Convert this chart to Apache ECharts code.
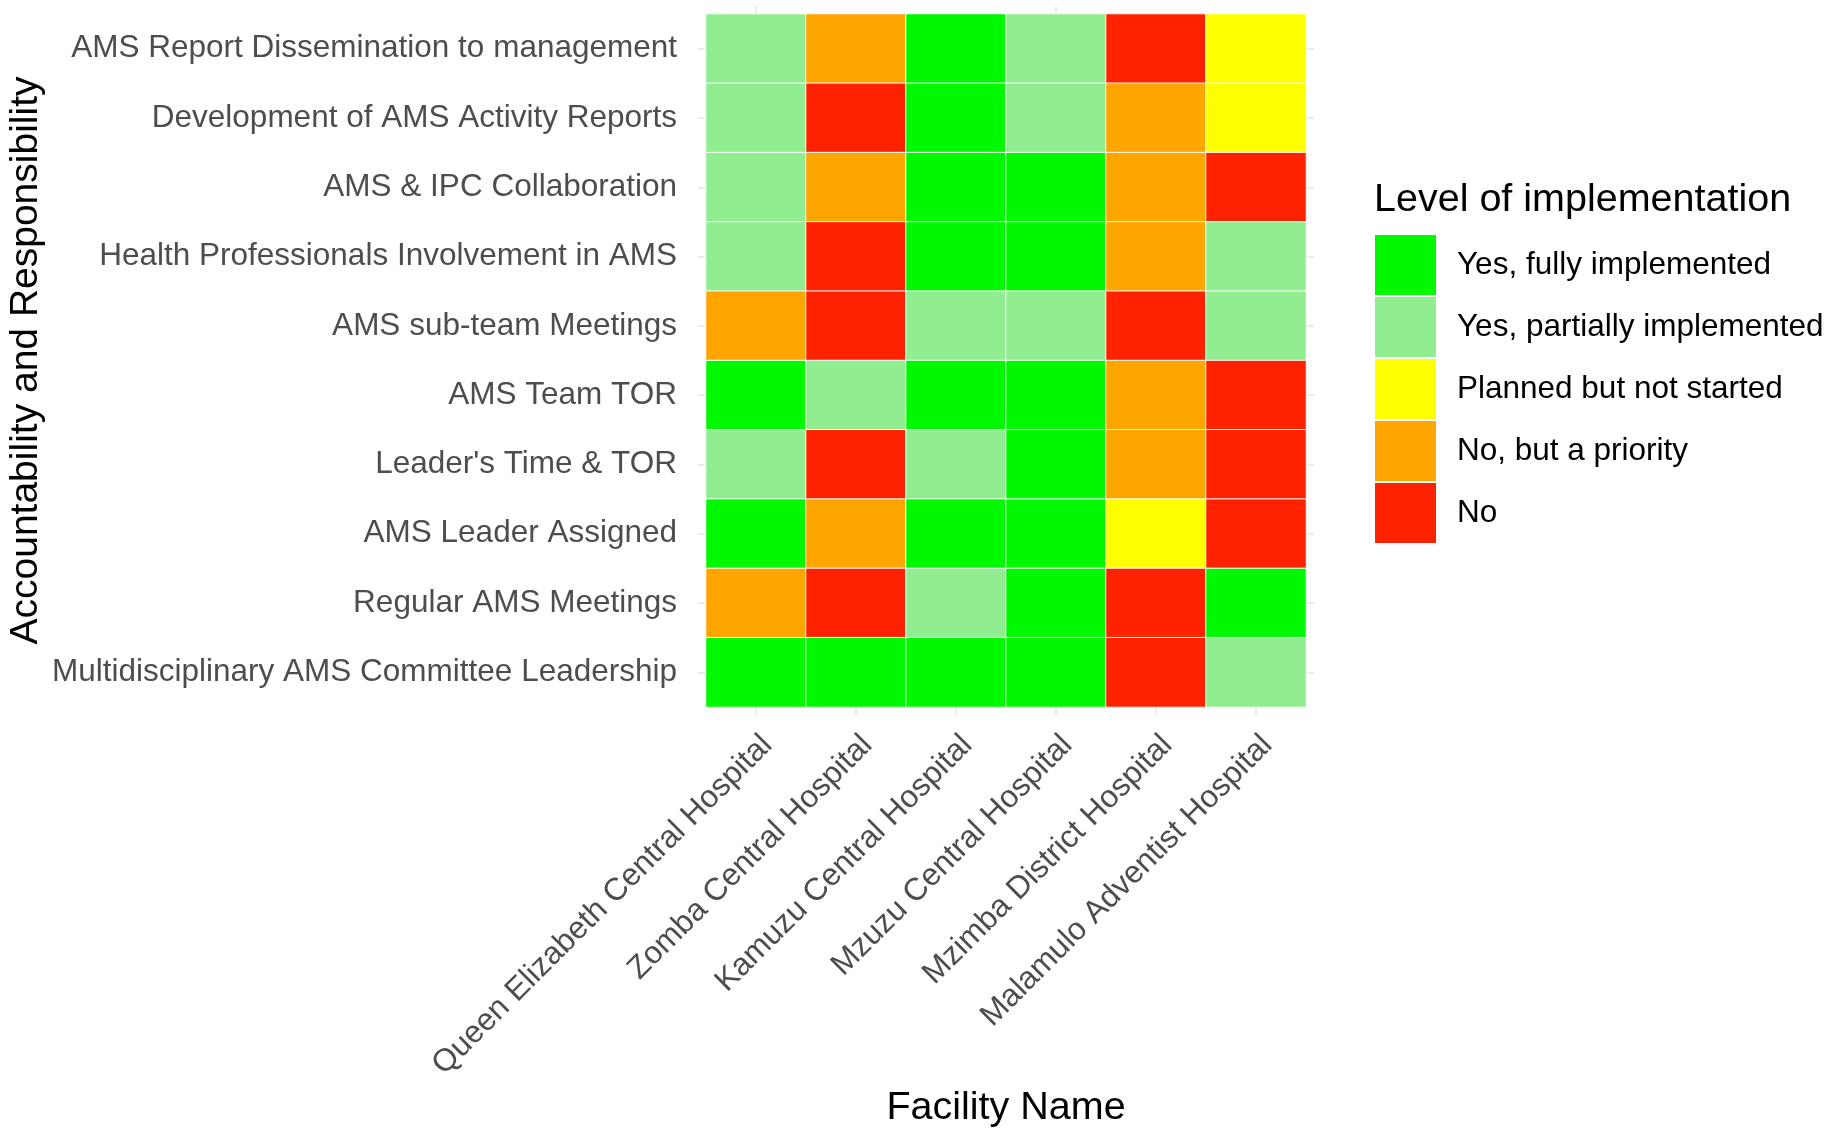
<!DOCTYPE html>
<html>
<head>
<meta charset="utf-8">
<style>
  html, body { margin: 0; padding: 0; background: #fff; }
  #chart { width: 1831px; height: 1137px; }
</style>
<script src="https://cdn.jsdelivr.net/npm/echarts@6/dist/echarts.min.js"></script>
</head>
<body>
<div id="chart"></div>
<script>
// facilities along the x axis
var facilities = [
    "Queen Elizabeth Central Hospital",
    "Zomba Central Hospital",
    "Kamuzu Central Hospital",
    "Mzuzu Central Hospital",
    "Mzimba District Hospital",
    "Malamulo Adventist Hospital"
];

// indicators, top to bottom
var indicators = [
    "AMS Report Dissemination to management",
    "Development of AMS Activity Reports",
    "AMS & IPC Collaboration",
    "Health Professionals Involvement in AMS",
    "AMS sub-team Meetings",
    "AMS Team TOR",
    "Leader's Time & TOR",
    "AMS Leader Assigned",
    "Regular AMS Meetings",
    "Multidisciplinary AMS Committee Leadership"
];

// legend levels, low code first
var levels = ["No", "No, but a priority", "Planned but not started", "Yes, partially implemented", "Yes, fully implemented"];
var levelColors = ["#FF2200", "#FFA500", "#FFFF00", "#90EE90", "#00F800"];

// level per indicator (same order as indicators) for each facility
var queenElizabeth = ["Yes, partially implemented", "Yes, partially implemented", "Yes, partially implemented", "Yes, partially implemented", "No, but a priority", "Yes, fully implemented", "Yes, partially implemented", "Yes, fully implemented", "No, but a priority", "Yes, fully implemented"];
var zomba = ["No, but a priority", "No", "No, but a priority", "No", "No", "Yes, partially implemented", "No", "No, but a priority", "No", "Yes, fully implemented"];
var kamuzu = ["Yes, fully implemented", "Yes, fully implemented", "Yes, fully implemented", "Yes, fully implemented", "Yes, partially implemented", "Yes, fully implemented", "Yes, partially implemented", "Yes, fully implemented", "Yes, partially implemented", "Yes, fully implemented"];
var mzuzu = ["Yes, partially implemented", "Yes, partially implemented", "Yes, fully implemented", "Yes, fully implemented", "Yes, partially implemented", "Yes, fully implemented", "Yes, fully implemented", "Yes, fully implemented", "Yes, fully implemented", "Yes, fully implemented"];
var mzimba = ["No", "No, but a priority", "No, but a priority", "No, but a priority", "No", "No, but a priority", "No, but a priority", "Planned but not started", "No", "No"];
var malamulo = ["Planned but not started", "Planned but not started", "No", "Yes, partially implemented", "Yes, partially implemented", "No", "No", "No", "Yes, fully implemented", "Yes, partially implemented"];

var columns = [queenElizabeth, zomba, kamuzu, mzuzu, mzimba, malamulo];

var cells = [];
for (var i = 0; i < columns.length; i++) {
    for (var j = 0; j < indicators.length; j++) {
        cells.push([i, j, levels.indexOf(columns[i][j])]);
    }
}

var font = "Liberation Sans, Arial, Helvetica, sans-serif";
var tickStyle = { show: true, length: 8, alignWithLabel: true, lineStyle: { color: "#ebebeb", width: 2 } };

var chart = echarts.init(document.getElementById("chart"), null, { renderer: "canvas" });
var option = {
    backgroundColor: "#fff",
    animation: false,
    textStyle: { fontFamily: font },
    title: {
        text: "Level of implementation",
        left: 1374,
        top: 180,
        padding: 0,
        textStyle: { fontSize: 39.5, fontWeight: "normal", color: "#000", fontFamily: font }
    },
    grid: { left: 706, right: 525, top: 14, bottom: 430 },
    xAxis: [
        {
            type: "category",
            data: facilities,
            position: "bottom",
            axisLine: { show: false },
            axisTick: tickStyle,
            splitLine: { show: false },
            axisLabel: {
                rotate: 45, align: "right", verticalAlign: "top", lineHeight: 32,
                margin: 22, fontSize: 31.5, color: "#4d4d4d", interval: 0
            },
            name: "Facility Name",
            nameLocation: "middle",
            nameGap: 380,
            nameTextStyle: { fontSize: 39.5, color: "#000" }
        },
        {
            type: "category",
            data: facilities,
            position: "top",
            axisLine: { show: false },
            axisTick: tickStyle,
            axisLabel: { show: false }
        }
    ],
    yAxis: [
        {
            type: "category",
            data: indicators,
            inverse: true,
            position: "left",
            axisLine: { show: false },
            axisTick: tickStyle,
            splitLine: { show: false },
            axisLabel: { margin: 29, fontSize: 31.5, color: "#4d4d4d", interval: 0 },
            name: "Accountability and Responsibility",
            nameLocation: "middle",
            nameRotate: 90,
            nameGap: 660,
            nameTextStyle: { fontSize: 39, color: "#000" }
        },
        {
            type: "category",
            data: indicators,
            inverse: true,
            position: "right",
            axisLine: { show: false },
            axisTick: tickStyle,
            axisLabel: { show: false }
        }
    ],
    visualMap: {
        type: "piecewise",
        dimension: 2,
        seriesIndex: 0,
        orient: "vertical",
        align: "left",
        left: 1375,
        top: 235,
        itemWidth: 61,
        itemHeight: 60,
        itemGap: 2,
        itemSymbol: "rect",
        textGap: 21,
        padding: 0,
        selectedMode: false,
        textStyle: { fontSize: 31.5, color: "#000" },
        pieces: levels.map(function (name, k) {
            return { value: k, label: name, color: levelColors[k] };
        })
    },
    series: [
        {
            type: "heatmap",
            data: cells,
            itemStyle: { borderColor: "#fff", borderWidth: 1 },
            label: { show: false }
        }
    ]
};
chart.setOption(option);
</script>
</body>
</html>
